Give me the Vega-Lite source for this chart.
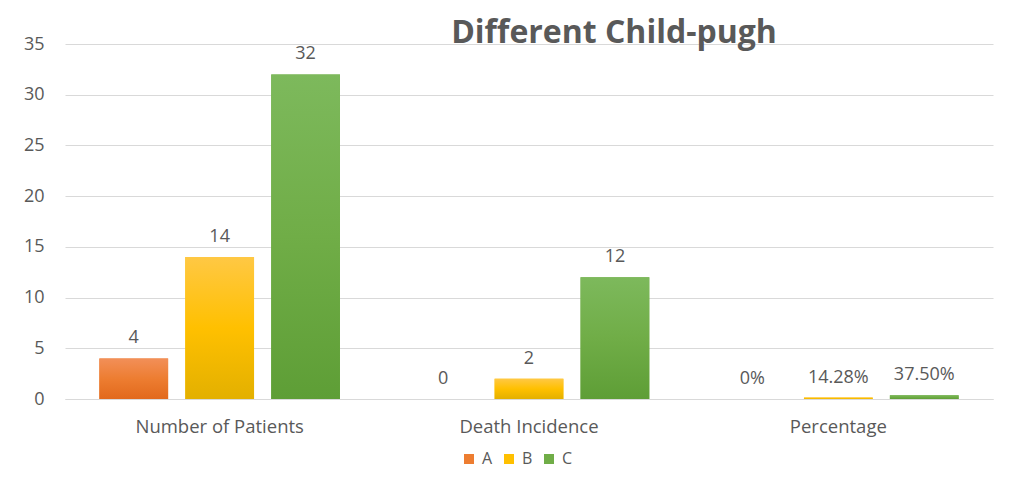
{
  "$schema": "https://vega.github.io/schema/vega-lite/v6.json",
  "width": 928,
  "height": 355,
  "autosize": {"type": "none"},
  "padding": {"left": 65, "top": 44, "right": 16, "bottom": 89},
  "background": "white",
  "title": {
    "text": "Different Child-pugh",
    "font": "Open Sans",
    "fontSize": 32,
    "fontWeight": "bold",
    "color": "#595959",
    "anchor": "middle",
    "dx": 85,
    "offset": -15
  },
  "data": {
    "values": [
      {"category": "Number of Patients", "grade": "A", "value": 4, "label": "4"},
      {"category": "Number of Patients", "grade": "B", "value": 14, "label": "14"},
      {"category": "Number of Patients", "grade": "C", "value": 32, "label": "32"},
      {"category": "Death Incidence", "grade": "A", "value": 0, "label": "0"},
      {"category": "Death Incidence", "grade": "B", "value": 2, "label": "2"},
      {"category": "Death Incidence", "grade": "C", "value": 12, "label": "12"},
      {"category": "Percentage", "grade": "A", "value": 0, "label": "0%"},
      {"category": "Percentage", "grade": "B", "value": 0.1428, "label": "14.28%"},
      {"category": "Percentage", "grade": "C", "value": 0.375, "label": "37.50%"}
    ]
  },
  "encoding": {
    "x": {
      "field": "category",
      "type": "nominal",
      "sort": ["Number of Patients", "Death Incidence", "Percentage"],
      "scale": {"paddingInner": 0, "paddingOuter": 0},
      "axis": {
        "title": null,
        "labelAngle": 0,
        "ticks": false,
        "grid": false,
        "domainColor": "#d9d9d9",
        "labelFont": "Open Sans",
        "labelFontSize": 18.5,
        "labelColor": "#595959",
        "labelPadding": 18
      }
    },
    "xOffset": {
      "field": "grade",
      "type": "nominal",
      "sort": ["A", "B", "C"],
      "scale": {"paddingInner": 0.2, "paddingOuter": 0.4}
    },
    "y": {
      "field": "value",
      "type": "quantitative",
      "scale": {"domain": [0, 35], "nice": false},
      "axis": {
        "title": null,
        "values": [0, 5, 10, 15, 20, 25, 30, 35],
        "domain": false,
        "ticks": false,
        "grid": true,
        "gridColor": "#d9d9d9",
        "labelFont": "Open Sans",
        "labelFontSize": 18,
        "labelColor": "#595959",
        "labelPadding": 21
      }
    }
  },
  "layer": [
    {
      "mark": {"type": "bar"},
      "encoding": {
        "color": {
          "field": "grade",
          "type": "nominal",
          "scale": {"domain": ["A", "B", "C"], "range": ["#ED7D31", "#FFC000", "#70AD47"]},
          "legend": {
            "title": null,
            "orient": "none",
            "legendX": 396,
            "legendY": 407,
            "direction": "horizontal",
            "symbolType": "square",
            "symbolSize": 100,
            "labelFont": "Open Sans",
            "labelFontSize": 16,
            "labelColor": "#595959",
            "columnPadding": 8,
            "labelOffset": 5
          }
        }
      }
    },
    {
      "transform": [{"filter": "datum.grade === 'A'"}],
      "mark": {
        "type": "bar",
        "color": {
          "gradient": "linear", "x1": 0, "y1": 0, "x2": 0, "y2": 1,
          "stops": [{"offset": 0, "color": "#F28F58"}, {"offset": 0.5, "color": "#ED7D31"}, {"offset": 1, "color": "#E2691C"}]
        }
      }
    },
    {
      "transform": [{"filter": "datum.grade === 'B'"}],
      "mark": {
        "type": "bar",
        "color": {
          "gradient": "linear", "x1": 0, "y1": 0, "x2": 0, "y2": 1,
          "stops": [{"offset": 0, "color": "#FFC844"}, {"offset": 0.5, "color": "#FFC000"}, {"offset": 1, "color": "#E3B000"}]
        }
      }
    },
    {
      "transform": [{"filter": "datum.grade === 'C'"}],
      "mark": {
        "type": "bar",
        "color": {
          "gradient": "linear", "x1": 0, "y1": 0, "x2": 0, "y2": 1,
          "stops": [{"offset": 0, "color": "#7DB95C"}, {"offset": 0.5, "color": "#70AD47"}, {"offset": 1, "color": "#5E9E36"}]
        }
      }
    },
    {
      "mark": {
        "type": "text",
        "baseline": "alphabetic",
        "dy": -15,
        "font": "Open Sans",
        "fontSize": 18,
        "color": "#595959"
      },
      "encoding": {
        "text": {"field": "label", "type": "nominal"}
      }
    }
  ],
  "config": {"view": {"stroke": null}}
}
